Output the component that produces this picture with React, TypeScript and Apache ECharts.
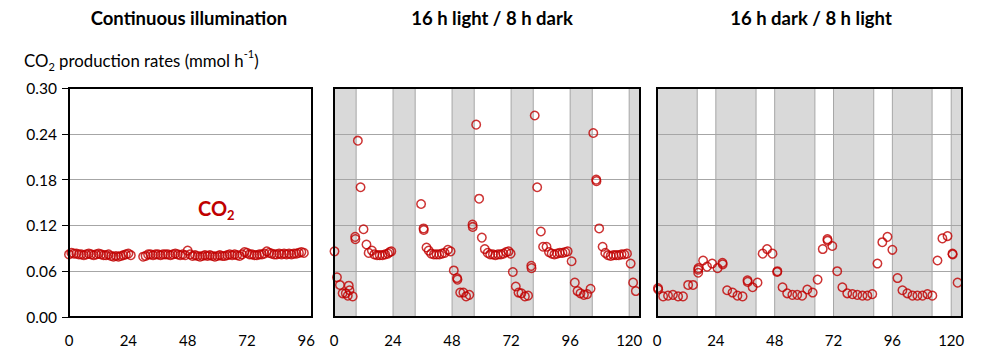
import React, { useEffect, useRef } from "react";
import * as echarts from "echarts";

// ---------- data ----------
const panelTitles = ["Continuous illumination", "16 h light / 8 h dark", "16 h dark / 8 h light"];
const xTicks = [0, 24, 48, 72, 96, 120];
const yTicks = [0, 0.06, 0.12, 0.18, 0.24, 0.3];

// Panel 1: continuous illumination (hourly)
const p1HoursA = [0, 1, 2, 3, 4, 5, 6, 7, 8, 9, 10, 11, 12, 13, 14, 15, 16, 17, 18, 19, 20, 21, 22, 23, 24, 25];
const p1ValuesA = [0.082, 0.084, 0.083, 0.083, 0.082, 0.082, 0.081, 0.082, 0.083, 0.082, 0.081, 0.082, 0.083, 0.082, 0.081, 0.081, 0.082, 0.080, 0.079, 0.080, 0.079, 0.080, 0.081, 0.082, 0.083, 0.081];
const p1HoursB = [30, 31, 32, 33, 34, 35, 36, 37, 38, 39, 40, 41, 42, 43, 44, 45, 46, 47, 48, 49, 50, 51, 52, 53, 54, 55, 56, 57, 58, 59, 60, 61, 62, 63, 64, 65, 66, 67, 68, 69, 70, 71, 72, 73, 74, 75, 76, 77, 78, 79, 80, 81, 82, 83, 84, 85, 86, 87, 88, 89, 90, 91, 92, 93, 94, 95];
const p1ValuesB = [0.079, 0.080, 0.082, 0.082, 0.081, 0.082, 0.082, 0.081, 0.082, 0.082, 0.082, 0.081, 0.082, 0.083, 0.082, 0.081, 0.082, 0.081, 0.087, 0.082, 0.080, 0.081, 0.080, 0.079, 0.080, 0.081, 0.080, 0.081, 0.080, 0.079, 0.080, 0.081, 0.080, 0.080, 0.081, 0.082, 0.081, 0.082, 0.081, 0.080, 0.082, 0.085, 0.084, 0.082, 0.082, 0.081, 0.081, 0.082, 0.082, 0.083, 0.086, 0.084, 0.083, 0.082, 0.082, 0.083, 0.082, 0.083, 0.082, 0.083, 0.082, 0.083, 0.083, 0.084, 0.085, 0.084];

// Panel 2: 16 h light / 8 h dark
const p2Hours = [0.2, 1.2, 2.4, 3.5, 4.8, 5.6, 6.0, 6.3, 7.6, 8.6, 8.7, 9.7, 10.8, 12.0, 13.2, 14.1, 15.4, 16.4, 17.5, 18.6, 19.7, 20.8, 21.9, 22.6, 23.3,
  35.4, 36.4, 36.5, 37.6, 38.5, 39.5, 40.6, 41.7, 42.8, 43.9, 45.0, 46.3, 47.4, 48.7, 50.0, 50.2, 51.3, 52.6, 53.7, 55.0, 56.3, 56.4, 57.8, 59.0, 60.1,
  61.3, 62.5, 63.5, 64.6, 65.6, 66.7, 67.8, 68.9, 70.0, 71.0, 71.8, 72.7, 73.9, 75.0, 76.2, 77.6, 78.9, 80.2, 80.3, 81.6, 82.6, 84.1, 85.0, 86.4,
  87.4, 88.5, 89.6, 90.7, 91.8, 92.9, 94.0, 95.0, 96.6, 97.9, 99.0, 100.2, 101.6, 102.9, 104.3, 105.4, 106.6, 106.7, 107.8, 109.2, 110.3, 111.4,
  112.5, 113.6, 114.7, 115.8, 116.9, 118.0, 119.1, 120.6, 121.6, 122.7];
const p2Values = [0.086, 0.052, 0.042, 0.031, 0.031, 0.028, 0.041, 0.035, 0.027, 0.105, 0.102, 0.231, 0.170, 0.115, 0.095, 0.084, 0.087, 0.082, 0.081, 0.081, 0.081, 0.082, 0.083, 0.085, 0.086,
  0.148, 0.116, 0.114, 0.091, 0.087, 0.083, 0.082, 0.082, 0.082, 0.083, 0.084, 0.088, 0.086, 0.061, 0.051, 0.049, 0.032, 0.032, 0.027, 0.029, 0.121, 0.118, 0.252, 0.155, 0.104,
  0.089, 0.084, 0.082, 0.082, 0.081, 0.082, 0.082, 0.083, 0.085, 0.086, 0.083, 0.059, 0.040, 0.032, 0.031, 0.027, 0.028, 0.067, 0.064, 0.264, 0.170, 0.112, 0.092, 0.092,
  0.085, 0.083, 0.082, 0.083, 0.084, 0.084, 0.085, 0.086, 0.073, 0.045, 0.034, 0.031, 0.029, 0.030, 0.037, 0.241, 0.180, 0.178, 0.116, 0.092, 0.084, 0.081,
  0.080, 0.081, 0.081, 0.081, 0.082, 0.082, 0.083, 0.070, 0.045, 0.034];
const p2Dark = [[0, 9], [24, 33], [48, 57], [72, 81], [96, 105], [120, 125]];

// Panel 3: 16 h dark / 8 h light
const p3Hours = [0.4, 0.5, 2.5, 4.5, 6.5, 8.6, 10.6, 12.7, 14.7, 16.8, 16.8, 16.9, 18.8, 20.4, 22.5, 24.7, 26.7, 26.8, 28.6, 30.8, 32.8, 34.9, 36.9, 37.0,
  39.0, 41.0, 43.1, 44.9, 47.1, 49.0, 49.1, 51.2, 53.1, 55.2, 57.2, 59.2, 61.3, 63.5, 65.5, 67.6, 69.5, 69.6, 71.5, 73.5, 75.6, 77.6, 79.7, 81.7,
  83.8, 85.8, 87.8, 89.9, 91.9, 94.0, 96.0, 98.1, 100.1, 102.1, 104.2, 106.2, 108.3, 110.3, 112.3, 114.4, 116.4, 118.5, 120.5, 120.6, 122.6];
const p3Values = [0.038, 0.036, 0.027, 0.028, 0.029, 0.027, 0.027, 0.042, 0.042, 0.058, 0.062, 0.064, 0.074, 0.066, 0.070, 0.064, 0.071, 0.069, 0.035, 0.032, 0.028, 0.027, 0.048, 0.046,
  0.039, 0.045, 0.083, 0.089, 0.083, 0.059, 0.060, 0.039, 0.031, 0.029, 0.029, 0.028, 0.036, 0.032, 0.049, 0.089, 0.102, 0.100, 0.093, 0.060, 0.039, 0.031, 0.030, 0.029,
  0.028, 0.028, 0.030, 0.070, 0.098, 0.105, 0.088, 0.051, 0.035, 0.031, 0.028, 0.028, 0.028, 0.030, 0.028, 0.074, 0.103, 0.106, 0.083, 0.082, 0.045];
const p3Dark = [[0, 16.4], [24, 40.4], [48, 64.4], [72, 88.4], [96, 112.2], [120, 125]];

// ---------- layout / style ----------
const FONT = "Lato";
const RED = "#C00000";
const GRIDS = [
  { left: 69, top: 88, width: 243, height: 229 },
  { left: 334, top: 88, width: 306, height: 229 },
  { left: 657, top: 88, width: 305, height: 229 },
];
const X_MAX = [98.3, 124.4, 124.4];
const TITLE_X = [189, 492, 811];

const zip = (xs: number[], ys: number[]) => xs.map((x, i) => [x, ys[i]]);

export default function App() {
  const ref = useRef<HTMLDivElement>(null);
  useEffect(() => {
    if (!ref.current) return;
    const chart = echarts.init(ref.current, undefined, { renderer: "svg" });
    const markerStyle = { color: "rgba(0,0,0,0)", borderColor: RED, borderWidth: 1.5 };
    const shade = (periods: number[][], xmax: number) => ({
      silent: true,
      z: 1,
      itemStyle: { color: "#D9D9D9", borderColor: "#A6A6A6", borderWidth: 1 },
      data: periods.map(([a, b]) => [{ xAxis: a }, { xAxis: Math.min(b, xmax) }]),
    });
    const option: any = {
      animation: false,
      grid: GRIDS.map((g) => ({ ...g, containLabel: false })),
      xAxis: GRIDS.map((_, i) => ({
        type: "value",
        gridIndex: i,
        min: 0,
        max: X_MAX[i],
        interval: 24,
        axisLine: { show: false },
        axisTick: { show: false },
        splitLine: { show: false },
        axisLabel: {
          showMaxLabel: false,
          color: "#000",
          fontFamily: FONT,
          fontSize: 15,
          margin: 15,
          formatter: (v: number) => (xTicks.includes(v) ? String(v) : ""),
        },
      })),
      yAxis: GRIDS.map((_, i) => ({
        type: "value",
        gridIndex: i,
        min: yTicks[0],
        max: yTicks[yTicks.length - 1],
        interval: 0.06,
        z: 1.5,
        axisLine: { show: false },
        axisTick: { show: i === 0, length: 7, lineStyle: { color: "#000" } },
        splitLine: { show: true, lineStyle: { color: "#A6A6A6", width: 1 } },
        axisLabel: {
          show: i === 0,
          color: "#000",
          fontFamily: FONT,
          fontSize: 15.5,
          margin: 12,
          formatter: (v: number) => v.toFixed(2),
        },
      })),
      series: [
        { type: "scatter", xAxisIndex: 0, yAxisIndex: 0, z: 3, symbol: "circle", symbolSize: 8.5, itemStyle: markerStyle, data: zip(p1HoursA, p1ValuesA).concat(zip(p1HoursB, p1ValuesB)) },
        { type: "scatter", xAxisIndex: 1, yAxisIndex: 1, z: 3, symbol: "circle", symbolSize: 8.5, itemStyle: markerStyle, data: zip(p2Hours, p2Values), markArea: shade(p2Dark, X_MAX[1]) },
        { type: "scatter", xAxisIndex: 2, yAxisIndex: 2, z: 3, symbol: "circle", symbolSize: 8.5, itemStyle: markerStyle, data: zip(p3Hours, p3Values), markArea: shade(p3Dark, X_MAX[2]) },
      ],
      graphic: [
        ...GRIDS.map((g) => ({
          type: "rect",
          silent: true,
          z: 100,
          shape: { x: g.left, y: g.top, width: g.width, height: g.height },
          style: { fill: "none", stroke: "#000", lineWidth: 2 },
        })),
        ...panelTitles.map((t, i) => ({
          type: "text",
          silent: true,
          z: 100,
          x: TITLE_X[i],
          y: 18,
          style: { text: t, fontFamily: FONT, fontSize: 18.5, fontWeight: "bold", fill: "#000", align: "center", verticalAlign: "middle", textAlign: "center", textVerticalAlign: "middle" },
        })),
        {
          type: "text",
          silent: true,
          z: 100,
          x: 24,
          y: 60,
          style: {
            text: "{a|CO}{b|2}{a| production rates (mmol h}{c|-1}{a|)}",
            fontFamily: FONT,
            fill: "#000",
            align: "left",
            verticalAlign: "middle",
            textAlign: "left",
            textVerticalAlign: "middle",
            rich: {
              a: { fontFamily: FONT, fontSize: 16.8, lineHeight: 24, fill: "#000", color: "#000" },
              b: { fontFamily: FONT, fontSize: 11, lineHeight: 11, verticalAlign: "bottom", fill: "#000", color: "#000" },
              c: { fontFamily: FONT, fontSize: 11, lineHeight: 11, verticalAlign: "top", fill: "#000", color: "#000" },
            },
          },
        },
        {
          type: "text",
          silent: true,
          z: 100,
          x: 198,
          y: 208,
          style: {
            text: "{a|CO}{b|2}",
            fontFamily: FONT,
            fill: RED,
            align: "left",
            verticalAlign: "middle",
            textAlign: "left",
            textVerticalAlign: "middle",
            rich: {
              a: { fontFamily: FONT, fontSize: 20, fontWeight: "bold", lineHeight: 26, fill: RED, color: RED },
              b: { fontFamily: FONT, fontSize: 13, fontWeight: "bold", lineHeight: 8, verticalAlign: "bottom", fill: RED, color: RED },
            },
          },
        },
      ],
    };
    chart.setOption(option);
    return () => chart.dispose();
  }, []);
  return (
    <div
      ref={ref}
      style={{ position: "fixed", left: 0, top: 0, width: 982, height: 350, background: "#fff" }}
    />
  );
}
